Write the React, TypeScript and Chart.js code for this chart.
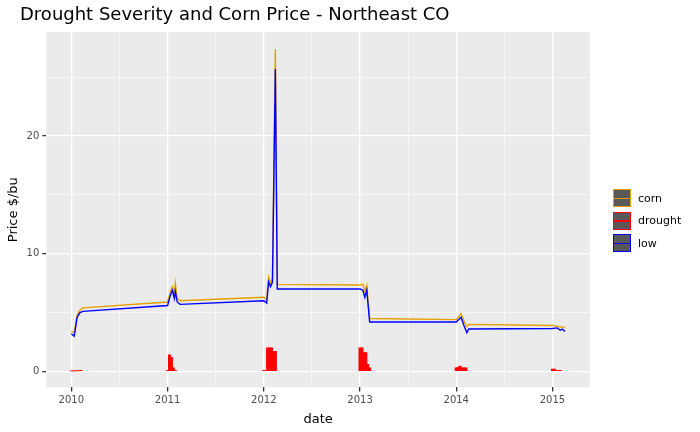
import { useEffect, useRef } from "react";
import { Chart, registerables } from "chart.js";

Chart.register(...registerables);

// price series: fractional year, corn price, low price
const priceDates = [
  2010.0, 2010.03, 2010.06, 2010.09, 2010.12,
  2011.0, 2011.03, 2011.05, 2011.07, 2011.08, 2011.1, 2011.13,
  2012.0, 2012.03, 2012.05, 2012.07, 2012.09, 2012.12, 2012.14,
  2013.0, 2013.03, 2013.05, 2013.07, 2013.1,
  2014.0, 2014.05, 2014.08, 2014.11, 2014.13,
  2015.0, 2015.05, 2015.08, 2015.1, 2015.13,
];
const cornPrice = [
  3.4, 3.3, 4.8, 5.2, 5.4,
  5.9, 6.8, 7.2, 6.6, 7.5, 6.2, 6.0,
  6.3, 6.1, 8.0, 7.5, 7.9, 27.4, 7.4,
  7.35, 7.4, 6.8, 7.3, 4.5,
  4.4, 4.9, 4.3, 3.8, 4.0,
  3.9, 3.85, 3.75, 3.8, 3.7,
];
const lowPrice = [
  3.2, 3.0, 4.6, 5.0, 5.1,
  5.6, 6.5, 6.9, 6.2, 6.8, 5.9, 5.7,
  6.0, 5.8, 7.6, 7.2, 7.6, 25.7, 7.0,
  7.0, 6.9, 6.3, 6.9, 4.2,
  4.2, 4.6, 3.9, 3.3, 3.6,
  3.65, 3.7, 3.5, 3.6, 3.4,
];

// drought severity
const droughtDates = [
  2010.0, 2010.02, 2010.04, 2010.06, 2010.08, 2010.1,
  2011.0, 2011.02, 2011.04, 2011.06, 2011.08,
  2012.0, 2012.02, 2012.04, 2012.06, 2012.08, 2012.1, 2012.12,
  2013.0, 2013.02, 2013.04, 2013.06, 2013.08, 2013.1,
  2014.0, 2014.02, 2014.04, 2014.06, 2014.08, 2014.1,
  2015.0, 2015.02, 2015.04, 2015.06, 2015.08,
];
const droughtValues = [
  0.05, 0.05, 0.05, 0.05, 0.1, 0.1,
  0.1, 1.4, 1.2, 0.3, 0.1,
  0.1, 0.1, 2.0, 2.0, 2.0, 1.7, 1.7,
  2.0, 2.0, 1.6, 1.6, 0.6, 0.3,
  0.3, 0.35, 0.45, 0.3, 0.3, 0.3,
  0.2, 0.2, 0.1, 0.1, 0.1,
];

const legendItems = [
  { label: "corn", color: "#E69F00" },
  { label: "drought", color: "#FF0000" },
  { label: "low", color: "#0000FF" },
];

const xTicks = [2010, 2010.5, 2011, 2011.5, 2012, 2012.5, 2013, 2013.5, 2014, 2014.5, 2015];
const yTicks = [0, 5, 10, 15, 20, 25];

const panelBg = {
  id: "panelBg",
  beforeDraw(chart: Chart) {
    const { ctx, chartArea } = chart;
    ctx.save();
    ctx.fillStyle = "#EBEBEB";
    ctx.fillRect(chartArea.left, chartArea.top, chartArea.width, chartArea.height);
    ctx.restore();
  },
};

const App = () => {
  const canvasRef = useRef<HTMLCanvasElement>(null);

  useEffect(() => {
    if (!canvasRef.current) return;
    const chart = new Chart(canvasRef.current, {
      type: "line",
      data: {
        datasets: [
          {
            type: "bar",
            label: "drought",
            data: droughtDates.map((d, i) => ({ x: d, y: droughtValues[i] })),
            backgroundColor: "#FF0000",
            barThickness: 2.4,
            order: 3,
          },
          {
            label: "corn",
            data: priceDates.map((d, i) => ({ x: d, y: cornPrice[i] })),
            borderColor: "#E69F00",
            borderWidth: 1.4,
            pointRadius: 0,
            order: 2,
          },
          {
            label: "low",
            data: priceDates.map((d, i) => ({ x: d, y: lowPrice[i] })),
            borderColor: "#0000FF",
            borderWidth: 1.4,
            pointRadius: 0,
            order: 1,
          },
        ] as any,
      },
      options: {
        responsive: false,
        animation: false,
        layout: { padding: { left: 0, right: 116, top: 32, bottom: 5 } },
        plugins: {
          legend: { display: false },
          tooltip: { enabled: false },
        },
        scales: {
          x: {
            type: "linear",
            offset: false,
            min: 2009.74,
            max: 2015.39,
            afterBuildTicks: (s: any) => {
              s.ticks = xTicks.map((v) => ({ value: v }));
            },
            ticks: {
              autoSkip: false,
              maxRotation: 0,
              color: "#4D4D4D",
              font: { family: "DejaVu Sans", size: 10 },
              callback: (v: any) => (Number.isInteger(v) ? String(v) : ""),
            },
            grid: {
              offset: false,
              color: "#FFFFFF",
              lineWidth: (c: any) => (Number.isInteger(c.tick?.value) ? 1.3 : 0.6),
              tickColor: (c: any) => (Number.isInteger(c.tick?.value) ? "#333333" : "rgba(0,0,0,0)"),
              tickLength: 4,
            },
            border: { display: false },
            title: {
              display: true,
              text: "date",
              color: "#000",
              font: { family: "DejaVu Sans", size: 13 },
              padding: { top: 2, bottom: 0 },
            },
          },
          y: {
            min: -1.36,
            max: 28.85,
            afterBuildTicks: (s: any) => {
              s.ticks = yTicks.map((v) => ({ value: v }));
            },
            ticks: {
              color: "#4D4D4D",
              font: { family: "DejaVu Sans", size: 10 },
              callback: (v: any) => (v % 10 === 0 ? String(v) : ""),
            },
            grid: {
              color: "#FFFFFF",
              lineWidth: (c: any) => (c.tick?.value % 10 === 0 ? 1.3 : 0.6),
              tickColor: (c: any) => (c.tick?.value % 10 === 0 ? "#333333" : "rgba(0,0,0,0)"),
              tickLength: 4,
            },
            border: { display: false },
            title: {
              display: true,
              text: "Price $/bu",
              color: "#000",
              font: { family: "DejaVu Sans", size: 13 },
              padding: { top: 0, bottom: 2 },
            },
          },
        },
      },
      plugins: [panelBg],
    });
    return () => chart.destroy();
  }, []);

  return (
    <div style={{ position: "fixed", left: 0, top: 0, width: 700, height: 432, background: "#fff" }}>
      <canvas ref={canvasRef} width={700} height={432} style={{ position: "absolute", left: 6, top: 0 }} />
      <div
        style={{
          position: "absolute",
          left: 20,
          top: 3,
          fontFamily: "DejaVu Sans",
          fontSize: 18,
          color: "#000",
          whiteSpace: "nowrap",
        }}
      >
        Drought Severity and Corn Price - Northeast CO
      </div>
      <div style={{ position: "absolute", left: 613, top: 187, fontFamily: "DejaVu Sans", fontSize: 11 }}>
        {legendItems.map((it) => (
          <div key={it.label} style={{ display: "flex", alignItems: "center", height: 22.5 }}>
            <div
              style={{
                width: 18,
                height: 18,
                boxSizing: "border-box",
                background: "#595959",
                border: `1.3px solid ${it.color}`,
                position: "relative",
              }}
            >
              <div style={{ position: "absolute", left: 0, right: 0, top: 7.5, height: 1.3, background: it.color }} />
            </div>
            <span style={{ marginLeft: 7 }}>{it.label}</span>
          </div>
        ))}
      </div>
    </div>
  );
};

export default App;
